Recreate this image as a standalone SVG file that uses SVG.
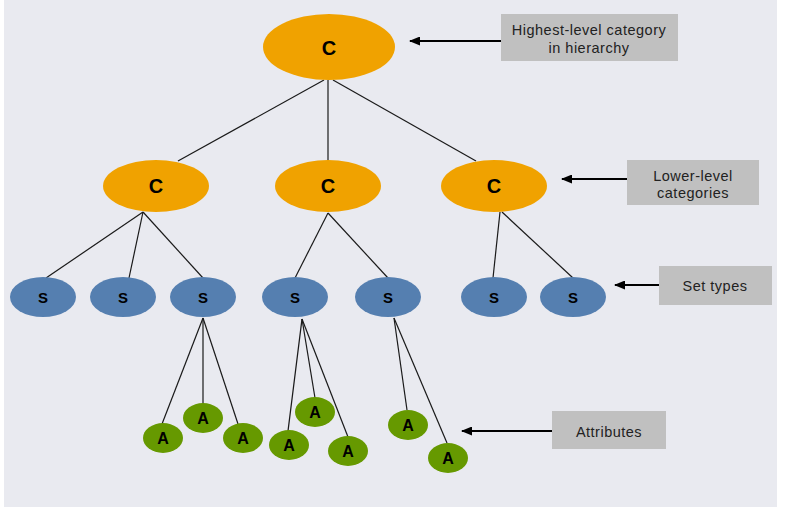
<svg xmlns="http://www.w3.org/2000/svg" width="788" height="511" viewBox="0 0 788 511">
<defs>
<marker id="ah" markerWidth="11" markerHeight="9" refX="10" refY="4.5" orient="auto" markerUnits="userSpaceOnUse">
<path d="M0,0 L11,4.5 L0,9 Z" fill="#000"/>
</marker>
<style>
.c{fill:#f0a200}
.s{fill:#557fb0}
.a{fill:#669900}
.t{font-family:"Liberation Sans",Arial,sans-serif;font-weight:bold;font-size:20px;fill:#000;text-anchor:middle;dominant-baseline:central}
.ts{font-family:"Liberation Sans",Arial,sans-serif;font-weight:bold;font-size:15px;fill:#000;text-anchor:middle;dominant-baseline:central}
.ta{font-family:"Liberation Sans",Arial,sans-serif;font-weight:bold;font-size:16px;fill:#000;text-anchor:middle;dominant-baseline:central}
.lb{fill:#c0c0c0}
.lt{font-family:"Liberation Sans",Arial,sans-serif;font-size:14.5px;letter-spacing:0.5px;fill:#222;text-anchor:middle}
.ln{stroke:#1a1a1a;stroke-width:1.2;fill:none}
.ar{stroke:#000;stroke-width:2.2;fill:none}
</style>
</defs>
<rect x="0" y="0" width="788" height="511" fill="#fff"/>
<rect x="4" y="0" width="773" height="507" fill="#e9eaf0"/>
<g id="connectors">
<line class="ln" x1="324" y1="80" x2="178" y2="161"/>
<line class="ln" x1="328" y1="80" x2="328" y2="160"/>
<line class="ln" x1="333" y1="80" x2="476" y2="161"/>
<line class="ln" x1="143" y1="212" x2="46" y2="278"/>
<line class="ln" x1="143" y1="212" x2="129" y2="278"/>
<line class="ln" x1="143" y1="212" x2="203" y2="278"/>
<line class="ln" x1="328" y1="213" x2="295" y2="278"/>
<line class="ln" x1="328" y1="213" x2="388" y2="278"/>
<line class="ln" x1="500" y1="212" x2="493" y2="278"/>
<line class="ln" x1="502" y1="212" x2="573" y2="278"/>
<line class="ln" x1="203" y1="318" x2="162" y2="424"/>
<line class="ln" x1="203" y1="318" x2="203" y2="404"/>
<line class="ln" x1="203" y1="318" x2="238" y2="424"/>
<line class="ln" x1="302" y1="319" x2="288" y2="431"/>
<line class="ln" x1="302" y1="319" x2="315" y2="398"/>
<line class="ln" x1="302" y1="319" x2="348" y2="437"/>
<line class="ln" x1="394" y1="318" x2="407" y2="410"/>
<line class="ln" x1="394" y1="318" x2="447" y2="443"/>
<line class="ar" x1="501" y1="41" x2="410" y2="41" marker-end="url(#ah)"/>
<line class="ar" x1="627" y1="179" x2="562" y2="179" marker-end="url(#ah)"/>
<line class="ar" x1="659" y1="285" x2="615" y2="285" marker-end="url(#ah)"/>
<line class="ar" x1="552" y1="431" x2="462" y2="431" marker-end="url(#ah)"/>
</g>
<g id="c0"><ellipse class="c" cx="329" cy="47" rx="66" ry="33"/><text class="t" x="329" y="48">C</text></g>
<g id="c1"><ellipse class="c" cx="156" cy="186" rx="53" ry="26"/><text class="t" x="156" y="186">C</text></g>
<g id="c2"><ellipse class="c" cx="328" cy="186" rx="53" ry="26"/><text class="t" x="328" y="186">C</text></g>
<g id="c3"><ellipse class="c" cx="494" cy="186" rx="53" ry="26"/><text class="t" x="494" y="186">C</text></g>
<g id="s1"><ellipse class="s" cx="43" cy="297" rx="33" ry="20"/><text class="ts" x="43" y="297">S</text></g>
<g id="s2"><ellipse class="s" cx="123" cy="297" rx="33" ry="20"/><text class="ts" x="123" y="297">S</text></g>
<g id="s3"><ellipse class="s" cx="203" cy="297" rx="33" ry="20"/><text class="ts" x="203" y="297">S</text></g>
<g id="s4"><ellipse class="s" cx="295" cy="297" rx="33" ry="20"/><text class="ts" x="295" y="297">S</text></g>
<g id="s5"><ellipse class="s" cx="388" cy="297" rx="33" ry="20"/><text class="ts" x="388" y="297">S</text></g>
<g id="s6"><ellipse class="s" cx="494" cy="297" rx="33" ry="20"/><text class="ts" x="494" y="297">S</text></g>
<g id="s7"><ellipse class="s" cx="573" cy="297" rx="33" ry="20"/><text class="ts" x="573" y="297">S</text></g>
<g id="a1"><ellipse class="a" cx="163" cy="438" rx="20" ry="15"/><text class="ta" x="163" y="438">A</text></g>
<g id="a2"><ellipse class="a" cx="203" cy="418" rx="20" ry="15"/><text class="ta" x="203" y="418">A</text></g>
<g id="a3"><ellipse class="a" cx="243" cy="438" rx="20" ry="15"/><text class="ta" x="243" y="438">A</text></g>
<g id="a4"><ellipse class="a" cx="289" cy="445" rx="20" ry="15"/><text class="ta" x="289" y="445">A</text></g>
<g id="a5"><ellipse class="a" cx="315" cy="412" rx="20" ry="15"/><text class="ta" x="315" y="412">A</text></g>
<g id="a6"><ellipse class="a" cx="348" cy="451" rx="20" ry="15"/><text class="ta" x="348" y="451">A</text></g>
<g id="a7"><ellipse class="a" cx="408" cy="425" rx="20" ry="15"/><text class="ta" x="408" y="425">A</text></g>
<g id="a8"><ellipse class="a" cx="448" cy="458" rx="20" ry="15"/><text class="ta" x="448" y="458">A</text></g>
<g id="label-highest"><rect class="lb" x="501" y="14" width="177" height="47"/><text class="lt" x="589" y="35">Highest-level category</text><text class="lt" x="589" y="53">in hierarchy</text></g>
<g id="label-lower"><rect class="lb" x="627" y="160" width="132" height="45"/><text class="lt" x="693" y="181">Lower-level</text><text class="lt" x="693" y="198">categories</text></g>
<g id="label-settypes"><rect class="lb" x="659" y="266" width="113" height="39"/><text class="lt" x="715" y="291">Set types</text></g>
<g id="label-attributes"><rect class="lb" x="552" y="411" width="114" height="38"/><text class="lt" x="609" y="437">Attributes</text></g>
</svg>
